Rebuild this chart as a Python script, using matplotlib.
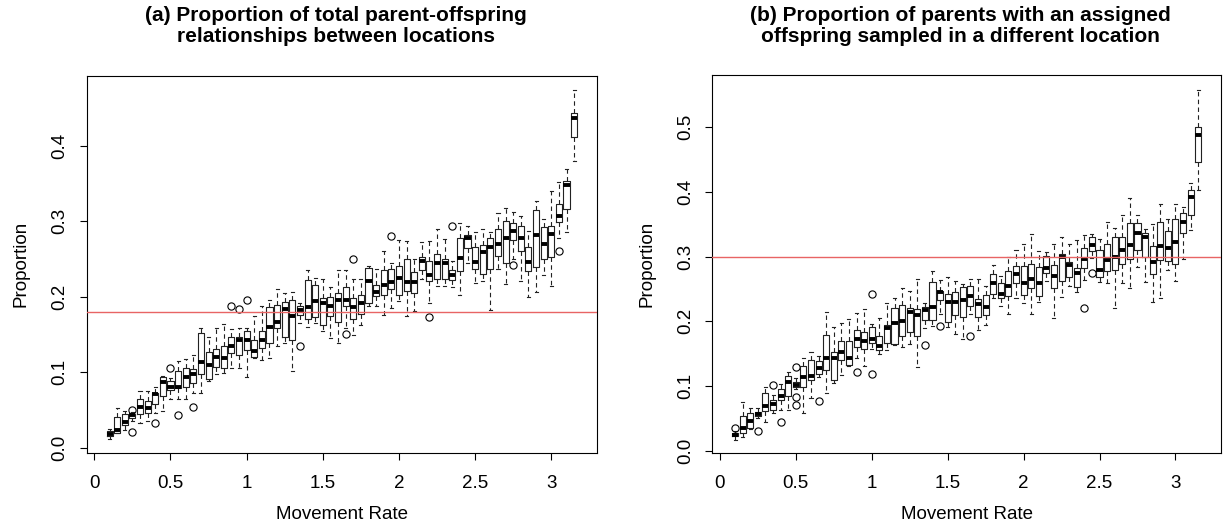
import matplotlib
matplotlib.use('Agg')
import matplotlib.pyplot as plt

plt.rcParams['font.family'] = ['Liberation Sans', 'DejaVu Sans']

# Movement rates (box categories)
rates = [0.10, 0.15, 0.20, 0.25, 0.30, 0.35, 0.40, 0.45, 0.50, 0.55,
         0.60, 0.65, 0.70, 0.75, 0.80, 0.85, 0.90, 0.95, 1.00, 1.05,
         1.10, 1.15, 1.20, 1.25, 1.30, 1.35, 1.40, 1.45, 1.50, 1.55,
         1.60, 1.65, 1.70, 1.75, 1.80, 1.85, 1.90, 1.95, 2.00, 2.05,
         2.10, 2.15, 2.20, 2.25, 2.30, 2.35, 2.40, 2.45, 2.50, 2.55,
         2.60, 2.65, 2.70, 2.75, 2.80, 2.85, 2.90, 2.95, 3.00, 3.05,
         3.10, 3.15]

# ---- Panel (a) ----
a_med = [0.018, 0.024, 0.034, 0.043, 0.054, 0.053, 0.071, 0.087, 0.080, 0.081,
         0.094, 0.097, 0.113, 0.109, 0.120, 0.119, 0.135, 0.142, 0.142, 0.128,
         0.143, 0.160, 0.167, 0.183, 0.175, 0.182, 0.186, 0.194, 0.191, 0.188,
         0.196, 0.196, 0.186, 0.191, 0.221, 0.206, 0.215, 0.219, 0.225, 0.220,
         0.219, 0.247, 0.228, 0.244, 0.244, 0.228, 0.251, 0.277, 0.246, 0.259,
         0.266, 0.270, 0.277, 0.287, 0.277, 0.246, 0.281, 0.270, 0.283, 0.307,
         0.348, 0.437]
a_q1 = [0.015, 0.020, 0.030, 0.039, 0.044, 0.046, 0.058, 0.068, 0.077, 0.079,
        0.080, 0.086, 0.097, 0.091, 0.107, 0.106, 0.125, 0.123, 0.130, 0.120,
        0.132, 0.138, 0.158, 0.147, 0.143, 0.176, 0.170, 0.173, 0.163, 0.174,
        0.167, 0.188, 0.170, 0.177, 0.192, 0.201, 0.202, 0.210, 0.202, 0.208,
        0.205, 0.235, 0.221, 0.223, 0.224, 0.222, 0.234, 0.264, 0.236, 0.230,
        0.236, 0.254, 0.245, 0.275, 0.260, 0.234, 0.239, 0.250, 0.252, 0.299,
        0.316, 0.412]
a_q3 = [0.022, 0.040, 0.045, 0.045, 0.064, 0.062, 0.072, 0.094, 0.088, 0.101,
        0.105, 0.104, 0.152, 0.127, 0.131, 0.135, 0.147, 0.147, 0.155, 0.142,
        0.155, 0.186, 0.189, 0.193, 0.195, 0.188, 0.222, 0.215, 0.198, 0.199,
        0.205, 0.213, 0.198, 0.202, 0.238, 0.216, 0.235, 0.236, 0.241, 0.250,
        0.232, 0.253, 0.247, 0.256, 0.250, 0.235, 0.277, 0.282, 0.266, 0.269,
        0.278, 0.290, 0.300, 0.297, 0.293, 0.266, 0.315, 0.292, 0.294, 0.322,
        0.353, 0.443]
a_wlo = [0.011, 0.019, 0.024, 0.036, 0.033, 0.035, 0.046, 0.048, 0.064, 0.064,
         0.064, 0.072, 0.072, 0.088, 0.097, 0.099, 0.105, 0.105, 0.094, 0.119,
         0.116, 0.119, 0.134, 0.138, 0.101, 0.165, 0.160, 0.165, 0.155, 0.145,
         0.139, 0.158, 0.149, 0.163, 0.188, 0.188, 0.176, 0.185, 0.194, 0.174,
         0.181, 0.223, 0.191, 0.214, 0.214, 0.213, 0.202, 0.245, 0.218, 0.221,
         0.182, 0.236, 0.217, 0.250, 0.221, 0.199, 0.206, 0.228, 0.214, 0.277,
         0.286, 0.380]
a_whi = [0.025, 0.053, 0.048, 0.047, 0.075, 0.075, 0.081, 0.095, 0.092, 0.115,
         0.118, 0.123, 0.158, 0.147, 0.158, 0.164, 0.157, 0.158, 0.159, 0.175,
         0.188, 0.196, 0.210, 0.205, 0.206, 0.191, 0.235, 0.225, 0.224, 0.213,
         0.235, 0.235, 0.224, 0.224, 0.241, 0.236, 0.260, 0.244, 0.275, 0.274,
         0.250, 0.273, 0.274, 0.290, 0.276, 0.247, 0.297, 0.294, 0.285, 0.289,
         0.286, 0.311, 0.318, 0.312, 0.307, 0.287, 0.327, 0.303, 0.340, 0.352,
         0.369, 0.474]
a_out = {3: [0.050, 0.021], 6: [0.033], 8: [0.105], 9: [0.043], 11: [0.054],
         16: [0.187], 17: [0.184], 18: [0.196], 25: [0.135], 31: [0.150],
         32: [0.250], 37: [0.280], 42: [0.173], 45: [0.293], 53: [0.242],
         59: [0.260]}
a_ref = 0.18

# ---- Panel (b) ----
b_med = [0.025, 0.035, 0.046, 0.057, 0.069, 0.072, 0.085, 0.107, 0.102, 0.114,
         0.115, 0.128, 0.144, 0.144, 0.152, 0.143, 0.173, 0.170, 0.173, 0.162,
         0.190, 0.197, 0.201, 0.215, 0.210, 0.218, 0.222, 0.246, 0.230, 0.230,
         0.233, 0.239, 0.227, 0.222, 0.260, 0.242, 0.255, 0.273, 0.260, 0.266,
         0.259, 0.283, 0.270, 0.299, 0.287, 0.275, 0.296, 0.318, 0.279, 0.295,
         0.299, 0.311, 0.318, 0.337, 0.330, 0.291, 0.316, 0.314, 0.323, 0.353,
         0.392, 0.488]
b_q1 = [0.023, 0.028, 0.035, 0.054, 0.062, 0.063, 0.078, 0.085, 0.099, 0.098,
        0.110, 0.119, 0.125, 0.110, 0.140, 0.133, 0.161, 0.158, 0.166, 0.156,
        0.166, 0.165, 0.178, 0.184, 0.177, 0.202, 0.202, 0.233, 0.199, 0.210,
        0.207, 0.224, 0.206, 0.210, 0.243, 0.236, 0.239, 0.259, 0.241, 0.251,
        0.239, 0.274, 0.252, 0.262, 0.268, 0.253, 0.282, 0.308, 0.269, 0.278,
        0.280, 0.289, 0.296, 0.311, 0.299, 0.273, 0.295, 0.293, 0.289, 0.336,
        0.364, 0.446]
b_q3 = [0.028, 0.053, 0.058, 0.060, 0.089, 0.078, 0.096, 0.115, 0.107, 0.131,
        0.140, 0.139, 0.179, 0.152, 0.169, 0.169, 0.187, 0.184, 0.192, 0.177,
        0.194, 0.221, 0.225, 0.220, 0.219, 0.222, 0.261, 0.247, 0.242, 0.245,
        0.253, 0.254, 0.234, 0.241, 0.273, 0.260, 0.278, 0.286, 0.286, 0.288,
        0.284, 0.301, 0.287, 0.304, 0.292, 0.282, 0.313, 0.330, 0.310, 0.319,
        0.331, 0.331, 0.352, 0.352, 0.336, 0.316, 0.353, 0.339, 0.358, 0.367,
        0.403, 0.500]
b_wlo = [0.017, 0.021, 0.033, 0.050, 0.045, 0.059, 0.063, 0.063, 0.095, 0.058,
         0.081, 0.114, 0.090, 0.105, 0.117, 0.131, 0.143, 0.131, 0.158, 0.150,
         0.156, 0.164, 0.161, 0.165, 0.130, 0.190, 0.193, 0.212, 0.192, 0.180,
         0.172, 0.212, 0.186, 0.194, 0.236, 0.224, 0.212, 0.236, 0.228, 0.212,
         0.230, 0.262, 0.205, 0.238, 0.254, 0.246, 0.264, 0.298, 0.261, 0.259,
         0.220, 0.259, 0.251, 0.284, 0.261, 0.230, 0.236, 0.280, 0.263, 0.297,
         0.341, 0.403]
b_whi = [0.030, 0.076, 0.066, 0.066, 0.099, 0.086, 0.103, 0.122, 0.112, 0.143,
         0.152, 0.146, 0.215, 0.192, 0.197, 0.203, 0.213, 0.219, 0.196, 0.205,
         0.228, 0.236, 0.251, 0.247, 0.265, 0.229, 0.278, 0.264, 0.269, 0.263,
         0.258, 0.265, 0.265, 0.255, 0.287, 0.270, 0.299, 0.310, 0.320, 0.335,
         0.309, 0.307, 0.320, 0.331, 0.319, 0.326, 0.333, 0.335, 0.327, 0.353,
         0.344, 0.365, 0.391, 0.365, 0.343, 0.351, 0.381, 0.358, 0.381, 0.376,
         0.414, 0.558]
b_out = {0: [0.035], 3: [0.030], 5: [0.101], 6: [0.045], 8: [0.129, 0.083, 0.071],
         11: [0.077], 16: [0.122], 18: [0.242, 0.118], 25: [0.164], 27: [0.193],
         31: [0.178], 46: [0.220], 47: [0.274]}
b_ref = 0.30

titles = ["(a) Proportion of total parent-offspring\nrelationships between locations",
          "(b) Proportion of parents with an assigned\noffspring sampled in a different location"]
x_ticks = [0, 0.5, 1, 1.5, 2, 2.5, 3]
x_ticklabels = ["0", "0.5", "1", "1.5", "2", "2.5", "3"]
a_yticks = [0.0, 0.1, 0.2, 0.3, 0.4]
b_yticks = [0.0, 0.1, 0.2, 0.3, 0.4, 0.5]


def make_stats(med, q1, q3, wlo, whi, out):
    stats = []
    for i in range(len(med)):
        stats.append(dict(med=med[i], q1=q1[i], q3=q3[i], whislo=wlo[i],
                          whishi=whi[i], fliers=out.get(i, [])))
    return stats


fig = plt.figure(figsize=(12.23, 5.24), dpi=100)
W, H = 1223.0, 524.0

panels = [
    dict(box=(86.7, 75.7, 597.0, 453.0), stats=make_stats(a_med, a_q1, a_q3, a_wlo, a_whi, a_out),
         ylim=(-0.007, 0.4925), yticks=a_yticks, ref=a_ref, title=titles[0], tx=336),
    dict(box=(712.3, 75.0, 1221.0, 452.7), stats=make_stats(b_med, b_q1, b_q3, b_wlo, b_whi, b_out),
         ylim=(-0.003, 0.5807), yticks=b_yticks, ref=b_ref, title=titles[1], tx=960),
]

for p in panels:
    x0, y0, x1, y1 = p['box']
    ax = fig.add_axes([x0 / W, 1 - y1 / H, (x1 - x0) / W, (y1 - y0) / H])
    ax.bxp(p['stats'], positions=rates, widths=0.04, capwidths=0.02,
           showfliers=True, manage_ticks=False,
           boxprops=dict(color='#222222', linewidth=0.8),
           medianprops=dict(color='black', linewidth=2.8, solid_capstyle='butt'),
           whiskerprops=dict(color='#222222', linewidth=0.8, linestyle=(0, (4, 3))),
           capprops=dict(color='#222222', linewidth=0.8),
           flierprops=dict(marker='o', markerfacecolor='none', markeredgecolor='black',
                           markersize=5.2, markeredgewidth=0.8, linestyle='none'))
    ax.axhline(p['ref'], color='#e86464', linewidth=1.0, zorder=5)
    ax.set_xlim(-0.05, 3.30)
    ax.set_ylim(*p['ylim'])
    ax.set_xticks(x_ticks)
    ax.set_xticklabels(x_ticklabels)
    ax.set_yticks(p['yticks'])
    ax.set_yticklabels(["%.1f" % v for v in p['yticks']], rotation=90, va='center')
    ax.tick_params(direction='out', length=5, width=0.8, labelsize=13.5)
    ax.tick_params(axis='x', pad=11)
    ax.tick_params(axis='y', pad=8)
    for s in ax.spines.values():
        s.set_linewidth(0.8)
    ax.set_xlabel("Movement Rate", fontsize=13.5, labelpad=10)
    ax.set_ylabel("Proportion", fontsize=13.5, labelpad=16)
    fig.text(p['tx'] / W, 1 - 6 / H, p['title'], ha='center', va='top', fontsize=15,
             fontweight='bold', linespacing=1.15)

fig.savefig('out.png', dpi=100)
